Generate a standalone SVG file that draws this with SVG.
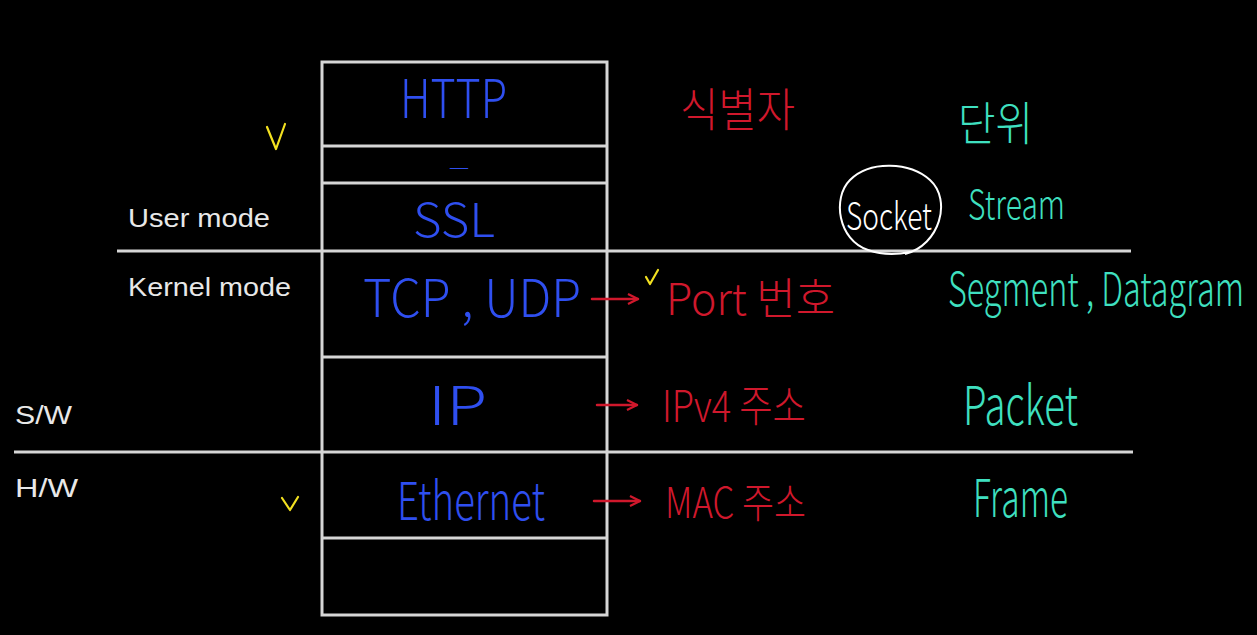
<svg xmlns="http://www.w3.org/2000/svg" width="1257" height="635" viewBox="0 0 1257 635">
<defs>
<style>
.ln{stroke:#d6d6d6;stroke-width:3;fill:none}
.lbl{font-family:"Liberation Sans",Arial,sans-serif;font-size:26px;fill:#e8e8e8}
.hw{font-family:"Noto Sans CJK KR","Noto Sans",sans-serif;font-weight:300}
.blue{fill:#2f4ff0}
.red{fill:#d0182c}
.teal{fill:#3fe0c0}
.wht{fill:#ffffff}
.arr{stroke:#d0182c;stroke-width:2.5;fill:none;stroke-linecap:round;stroke-linejoin:round}
.chk{stroke:#f2e020;stroke-width:2.2;fill:none;stroke-linecap:round;stroke-linejoin:round}
</style>
<marker id="ah" viewBox="0 0 12 12" refX="11" refY="6" markerWidth="12" markerHeight="12" markerUnits="userSpaceOnUse" orient="auto">
<path d="M1,1 L11,6 L1,11" stroke="#d0182c" stroke-width="2.2" fill="none"/>
</marker>
</defs>
<rect width="1257" height="635" fill="#000"/>

<g id="dividers">
<line class="ln" x1="117" y1="251" x2="1131" y2="251"/>
<line class="ln" x1="14" y1="452" x2="1133" y2="452"/>
</g>

<g id="stack">
<rect class="ln" x="322" y="62" width="285" height="553"/>
<line class="ln" x1="322" y1="146" x2="607" y2="146"/>
<line class="ln" x1="322" y1="183" x2="607" y2="183"/>
<line class="ln" x1="322" y1="357" x2="607" y2="357"/>
<line class="ln" x1="322" y1="538" x2="607" y2="538"/>
</g>

<g id="side-labels">
<text class="lbl" x="128" y="227" textLength="142" lengthAdjust="spacingAndGlyphs">User mode</text>
<text class="lbl" x="128" y="296" textLength="163" lengthAdjust="spacingAndGlyphs">Kernel mode</text>
<text class="lbl" x="15" y="424" textLength="57" lengthAdjust="spacingAndGlyphs">S/W</text>
<text class="lbl" x="15" y="497" textLength="63" lengthAdjust="spacingAndGlyphs">H/W</text>
</g>

<g id="layer-http"><text class="hw blue" x="400" y="118" font-size="54" textLength="107" lengthAdjust="spacingAndGlyphs">HTTP</text></g>
<g id="layer-blank"><text class="hw blue" x="448" y="175" font-size="24" textLength="22" lengthAdjust="spacingAndGlyphs">–</text></g>
<g id="layer-ssl"><text class="hw blue" x="413" y="237" font-size="47" textLength="82" lengthAdjust="spacingAndGlyphs">SSL</text></g>
<g id="layer-tcp"><text class="hw blue" x="363" y="317" font-size="52" textLength="218" lengthAdjust="spacingAndGlyphs">TCP , UDP</text></g>
<g id="layer-ip"><text class="hw blue" x="428" y="425" font-size="54" textLength="59" lengthAdjust="spacingAndGlyphs">IP</text></g>
<g id="layer-eth"><text class="hw blue" x="397" y="520" font-size="52" textLength="148" lengthAdjust="spacingAndGlyphs">Ethernet</text></g>

<g id="connectors">
<line class="arr" x1="592" y1="299" x2="638" y2="299" marker-end="url(#ah)"/>
<line class="arr" x1="597" y1="405" x2="637" y2="405" marker-end="url(#ah)"/>
<line class="arr" x1="594" y1="501" x2="640" y2="501" marker-end="url(#ah)"/>
</g>

<g id="identifiers">
<text class="hw red" x="680" y="126" font-size="46" textLength="115" lengthAdjust="spacingAndGlyphs">식별자</text>
<text class="hw red" x="666" y="315" font-size="44" textLength="169" lengthAdjust="spacingAndGlyphs">Port 번호</text>
<text class="hw red" x="662" y="422" font-size="44" textLength="144" lengthAdjust="spacingAndGlyphs">IPv4 주소</text>
<text class="hw red" x="665" y="518" font-size="42" textLength="141" lengthAdjust="spacingAndGlyphs">MAC 주소</text>
</g>

<g id="units">
<text class="hw teal" x="958" y="140" font-size="46" textLength="75" lengthAdjust="spacingAndGlyphs">단위</text>
<text class="hw teal" x="968" y="219" font-size="40" textLength="97" lengthAdjust="spacingAndGlyphs">Stream</text>
<text class="hw teal" transform="translate(948,306) scale(1,1.4)" x="0" y="0" font-size="33" textLength="296" lengthAdjust="spacingAndGlyphs">Segment , Datagram</text>
<text class="hw teal" x="963" y="425" font-size="54" textLength="115" lengthAdjust="spacingAndGlyphs">Packet</text>
<text class="hw teal" x="973" y="517" font-size="52" textLength="95" lengthAdjust="spacingAndGlyphs">Frame</text>
</g>

<g id="socket">
<path d="M905,254 C940,245 952,200 930,180 C910,162 870,160 850,180 C832,198 838,240 868,250 C885,256 900,254 910,252" stroke="#fff" stroke-width="2" fill="none"/>
<text class="hw wht" x="846" y="230" font-size="38" textLength="86" lengthAdjust="spacingAndGlyphs">Socket</text>
</g>

<g id="checks">
<path class="chk" d="M267,127 L276,149 L285,124"/>
<path class="chk" d="M282,498 L290,510 L298,497"/>
<path class="chk" d="M646,277 L650,284 L658,270"/>
</g>
</svg>
